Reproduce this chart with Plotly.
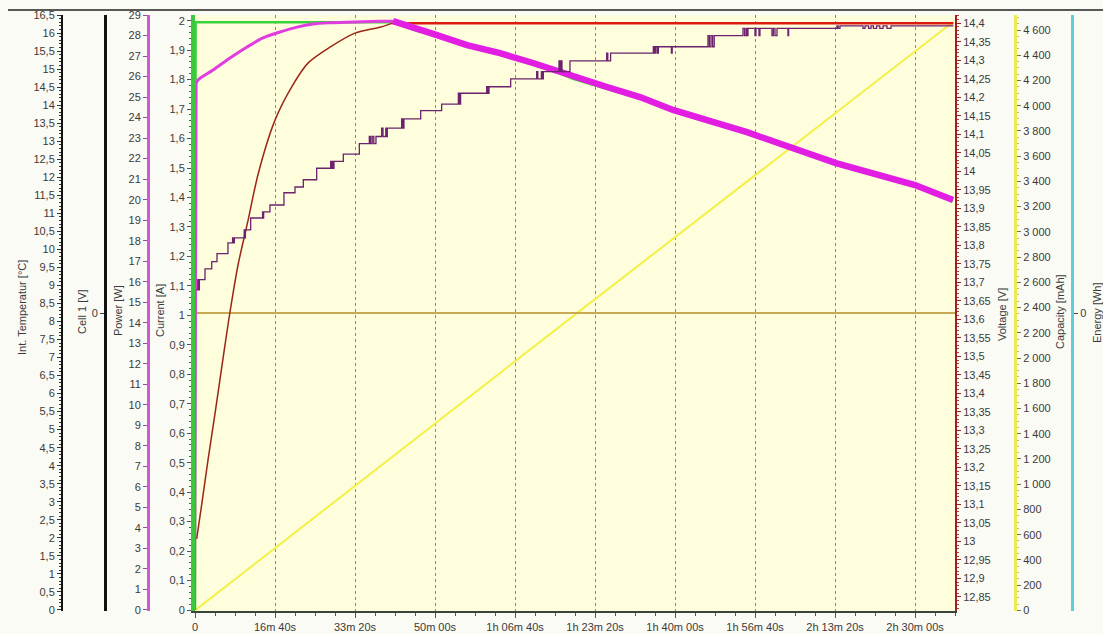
import plotly.graph_objects as go

# ---- time axis (seconds since start of charge) ----
time_tick_s = [0, 1000, 2000, 3000, 4000, 5000, 6000, 7000, 8000, 9000]
time_tick_text = ["0", "16m 40s", "33m 20s", "50m 00s", "1h 06m 40s", "1h 23m 20s",
                  "1h 40m 00s", "1h 56m 40s", "2h 13m 20s", "2h 30m 00s"]

# ---- charge current [A] ----
current_t = [0, 8, 300, 800, 1500, 2475, 2725, 3025, 3400, 3812, 4225, 4562, 4725,
             5150, 5562, 5975, 6400, 6900, 8012, 9000, 9475]
current_a = [0, 1.995, 1.995, 1.995, 1.995, 1.995, 1.970, 1.946, 1.912, 1.885, 1.851,
             1.821, 1.803, 1.770, 1.736, 1.692, 1.658, 1.617, 1.512, 1.438, 1.388]

# ---- battery voltage [V] ----
voltage_t = [21, 84, 166, 250, 334, 416, 479, 541, 666, 791, 1000, 1209, 1412, 1687,
             2000, 2312, 2475, 9480]
voltage_v = [13.007, 13.100, 13.225, 13.345, 13.470, 13.590, 13.675, 13.750, 13.870,
             13.994, 14.138, 14.228, 14.292, 14.335, 14.373, 14.389, 14.400, 14.400]
voltage_cv_start = 16  # index where the constant-voltage phase begins

# ---- charge power [W] ----
power_t = [0, 20, 37, 225, 437, 650, 850, 1062, 1275, 1475, 1687, 1900, 2312, 2475,
           2725, 3025, 3400, 3812, 4225, 4562, 4725, 5150, 5562, 5975, 6400, 6900,
           8012, 9000, 9475]
power_w = [0, 25.7, 25.83, 26.32, 26.90, 27.44, 27.88, 28.17, 28.41, 28.56, 28.62,
           28.65, 28.69, 28.70, 28.36, 28.02, 27.53, 27.14, 26.66, 26.22, 25.97, 25.49,
           25.00, 24.37, 23.88, 23.29, 21.78, 20.71, 19.98]
power_peak = 13  # index of the power maximum

# ---- charged capacity [mAh] ----
capacity_t = [0, 4787, 9475]
capacity_mah = [0, 2362, 4663]

# ---- channels without signal ----
cell1_t = [0, 9500]
cell1_v = [0, 0]
energy_t = [0, 9500]
energy_wh = [0, 0]

# ---- internal temperature [°C] (sampled, with sensor flicker at the steps) ----
temp_t = [20, 35, 45, 55, 125, 209, 275, 412, 470, 480, 492, 615, 622, 630, 696,
          845, 852, 858, 937, 1112, 1250, 1354, 1521, 1696, 1705, 1715, 1727, 1737,
          1854, 2054, 2179, 2195, 2215, 2235, 2262, 2333, 2350, 2385, 2395, 2404,
          2583, 2598, 2612, 2821, 3083, 3292, 3305, 3320, 3646, 3660, 3675, 3946,
          4271, 4285, 4330, 4345, 4354, 4550, 4562, 4575, 4587, 4687, 5146, 5160,
          5195, 5729, 5745, 5760, 5780, 5792, 5955, 5965, 6412, 6430, 6450, 6470,
          6490, 6850, 6870, 6890, 6905, 6912, 7000, 7012, 7050, 7062, 7212, 7230,
          7250, 7275, 7412, 7420, 8025, 8040, 8062, 8350, 8375, 8420, 8450, 8480,
          8520, 8560, 8600, 8650, 8700, 9480]
temp_c = [8.88, 9.16, 8.88, 9.16, 9.46, 9.66, 9.88, 10.18, 10.32, 10.18, 10.32, 10.54,
          10.32, 10.54, 10.87, 11.04, 10.87, 11.04, 11.23, 11.57, 11.73, 11.93, 12.25,
          12.44, 12.25, 12.44, 12.25, 12.44, 12.64, 12.93, 13.13, 12.93, 13.13, 12.93,
          13.13, 13.36, 13.13, 13.36, 13.13, 13.36, 13.62, 13.36, 13.62, 13.85, 14.03,
          14.33, 14.03, 14.33, 14.51, 14.33, 14.51, 14.73, 14.93, 14.73, 14.93, 14.73,
          14.93, 15.23, 14.93, 15.23, 14.93, 15.23, 15.44, 15.23, 15.44, 15.62, 15.44,
          15.62, 15.44, 15.62, 15.44, 15.62, 15.93, 15.62, 15.93, 15.62, 15.93, 16.13,
          15.93, 16.13, 15.93, 16.13, 15.93, 16.13, 15.93, 16.13, 15.93, 16.13, 15.93,
          16.13, 15.93, 16.13, 16.20, 16.13, 16.20, 16.13, 16.20, 16.13, 16.20, 16.13,
          16.20, 16.13, 16.20, 16.13, 16.20, 16.20]

# ---- page geometry ----
W, H = 1103, 634
PLOT_L, PLOT_R, PLOT_T, PLOT_B = 195, 955, 15, 611


def fx(px):
    return px / W


def fy(py):
    return 1 - py / H


x_dom = [fx(PLOT_L), fx(PLOT_R)]
y_dom = [fy(PLOT_B), fy(PLOT_T)]

tick_font = dict(family="Liberation Sans, Arial, sans-serif", size=11, color="#3a3a3a")

fig = go.Figure()

# layering follows the axis numbering: y (capacity) lowest ... y7 (temperature) on top
fig.add_trace(go.Scatter(x=capacity_t, y=capacity_mah, yaxis="y", mode="lines",
                         line=dict(color="#f4f046", width=2), hoverinfo="skip"))
fig.add_trace(go.Scatter(x=cell1_t, y=cell1_v, yaxis="y2", mode="lines",
                         line=dict(color="#c9aa55", width=2), hoverinfo="skip"))
fig.add_trace(go.Scatter(x=energy_t, y=energy_wh, yaxis="y3", mode="lines",
                         line=dict(color="#c9aa55", width=1.5), hoverinfo="skip"))
fig.add_trace(go.Scatter(x=current_t, y=current_a, yaxis="y4", mode="lines",
                         line=dict(color="#3ad23a", width=2.5), hoverinfo="skip"))
fig.add_trace(go.Scatter(x=voltage_t[:voltage_cv_start + 1],
                         y=voltage_v[:voltage_cv_start + 1], yaxis="y5", mode="lines",
                         line=dict(color="#9a2618", width=1.5, shape="spline",
                                   smoothing=0.8),
                         hoverinfo="skip"))
fig.add_trace(go.Scatter(x=voltage_t[voltage_cv_start:], y=voltage_v[voltage_cv_start:],
                         yaxis="y5", mode="lines",
                         line=dict(color="#dd1a10", width=2.5), hoverinfo="skip"))
fig.add_trace(go.Scatter(x=power_t[1:power_peak + 1], y=power_w[1:power_peak + 1],
                         yaxis="y6", mode="lines",
                         line=dict(color="#e03ce0", width=3, shape="spline",
                                   smoothing=0.8),
                         hoverinfo="skip"))
fig.add_trace(go.Scatter(x=power_t[:2], y=power_w[:2], yaxis="y6", mode="lines",
                         line=dict(color="#e03ce0", width=2), hoverinfo="skip"))
fig.add_trace(go.Scatter(x=power_t[power_peak:], y=power_w[power_peak:],
                         yaxis="y6", mode="lines",
                         line=dict(color="#e21ee2", width=6.5), hoverinfo="skip"))
fig.add_trace(go.Scatter(x=temp_t, y=temp_c, yaxis="y7", mode="lines",
                         line=dict(color="#6c226c", width=1.3, shape="hv"),
                         hoverinfo="skip"))


def free_axis(pos, side, rng, line_color, line_width, **kw):
    d = dict(domain=y_dom, overlaying="y", anchor="free", position=pos, side=side,
             range=rng, showline=True, linecolor=line_color, linewidth=line_width,
             ticks="outside", ticklen=4, showgrid=False, zeroline=False,
             automargin=False, tickfont=tick_font, fixedrange=True)
    d.update(kw)
    return d


fig.update_layout(
    template="none",
    width=W, height=H,
    autosize=False,
    margin=dict(l=0, r=0, t=0, b=0, pad=0, autoexpand=False),
    paper_bgcolor="#fbfbf5",
    plot_bgcolor="#fefedc",
    separators=", ",
    showlegend=False,
    font=tick_font,
    xaxis=dict(domain=x_dom, anchor="y", range=[0, 9500],
               tickmode="array", tickvals=time_tick_s, ticktext=time_tick_text,
               ticks="outside", ticklen=5, tickcolor="#555555",
               showline=True, linecolor="#3a443a", linewidth=2,
               showgrid=True, gridcolor="#8c8c7c", gridwidth=1, griddash="3px,3px",
               zeroline=False, automargin=False, tickfont=tick_font, fixedrange=True,
               minor=dict(tick0=0, dtick=250, ticks="outside", ticklen=3,
                          tickcolor="#555555", showgrid=False)),
    # capacity [mAh]
    yaxis=dict(domain=y_dom, anchor="free", position=fx(1015), side="right",
               range=[-5, 4719], tickmode="linear", tick0=0, dtick=200,
               separatethousands=True, showline=True, linecolor="#eeea55", linewidth=3,
               ticks="outside", ticklen=4, tickcolor="#777744", showgrid=False,
               zeroline=False, automargin=False, tickfont=tick_font, fixedrange=True,
               minor=dict(dtick=50, ticks="outside", ticklen=2, tickcolor="#c8c440")),
    # Cell 1 [V]
    yaxis2=free_axis(fx(105), "left", [-1, 1], "#111111", 3,
                     tickmode="array", tickvals=[0], tickcolor="#444444"),
    # energy [Wh]
    yaxis3=free_axis(fx(1072), "right", [-1, 1], "#5ccfdc", 3,
                     tickmode="array", tickvals=[0], tickcolor="#444444"),
    # current [A]
    yaxis4=dict(domain=y_dom, overlaying="y", anchor="x", side="left",
                range=[-0.0034, 2.0193], tickmode="linear", tick0=0, dtick=0.1,
                showline=True, linecolor="#3cc83c", linewidth=4,
                ticks="outside", ticklen=4, tickcolor="#555555", showgrid=False,
                zeroline=False, automargin=False, tickfont=tick_font, fixedrange=True,
                minor=dict(dtick=0.02, ticks="outside", ticklen=2, tickcolor="#2a7a2a")),
    # voltage [V]
    yaxis5=dict(domain=y_dom, overlaying="y", anchor="x", side="right",
                range=[12.812, 14.422], tickmode="linear", tick0=12.85, dtick=0.05,
                showline=True, linecolor="#a41c1c", linewidth=2,
                ticks="outside", ticklen=4, tickcolor="#a41c1c", showgrid=False,
                zeroline=False, automargin=False, tickfont=tick_font, fixedrange=True,
                minor=dict(dtick=0.01, ticks="outside", ticklen=2, tickcolor="#b04040")),
    # power [W]
    yaxis6=free_axis(fx(148), "left", [-0.05, 29.0], "#cf5acf", 3,
                     tickmode="linear", tick0=0, dtick=1, tickcolor="#9a4a9a"),
    # internal temperature [°C]
    yaxis7=free_axis(fx(62), "left", [-0.03, 16.5], "#111111", 2,
                     tickmode="linear", tick0=0, dtick=0.5, tickcolor="#333333",
                     minor=dict(dtick=0.1, ticks="outside", ticklen=2,
                                tickcolor="#333333")),
)

# rotated axis titles
titles = [
    ("Int. Temperatur [°C]", 22, 308),
    ("Cell 1 [V]", 82, 312),
    ("Power [W]", 118, 311),
    ("Current [A]", 160, 311),
    ("Voltage [V]", 1002, 315),
    ("Capacity [mAh]", 1060, 312),
    ("Energy [Wh]", 1097, 313),
]
for text, px, py in titles:
    fig.add_annotation(text=text, x=fx(px), y=fy(py), xref="paper", yref="paper",
                       showarrow=False, textangle=-90, xanchor="center",
                       yanchor="middle", font=tick_font)

# frame line across the top of the window
fig.add_shape(type="line", xref="paper", yref="paper", x0=fx(8), x1=1,
              y0=fy(10), y1=fy(10), line=dict(color="#222222", width=1.5))

fig.write_html("out.html")
